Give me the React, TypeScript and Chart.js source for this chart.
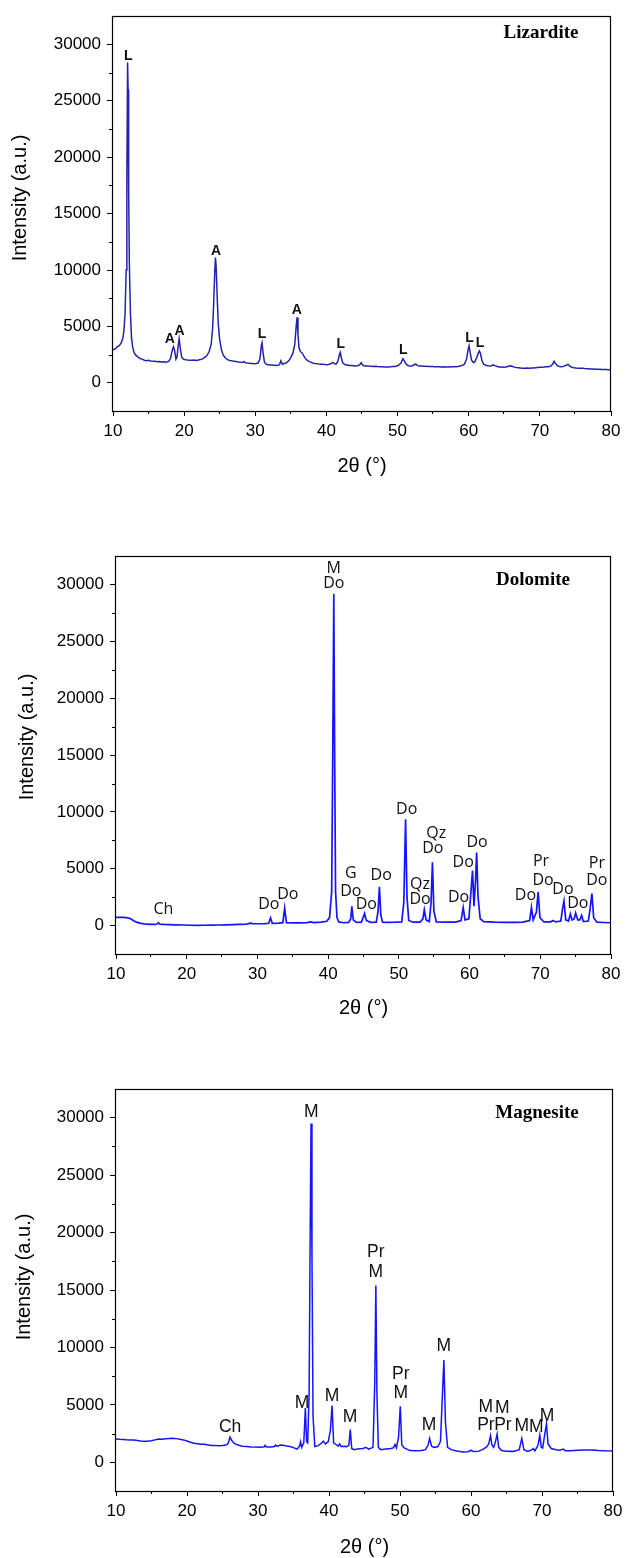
import React, { useEffect, useRef } from "react";
import { Chart, registerables } from "chart.js";
Chart.register(...registerables);

// ---------- shared axis values ----------
const xTickValues = [10, 20, 30, 40, 50, 60, 70, 80];
const xMinorValues = [15, 25, 35, 45, 55, 65, 75];
const yTickValues = [0, 5000, 10000, 15000, 20000, 25000, 30000];
const yMinorValues = [2500, 7500, 12500, 17500, 22500, 27500];
const xTitle = "2θ (°)";
const yTitle = "Intensity (a.u.)";

// ---------- Lizardite ----------
const lizarditeTheta = [
  10.0, 10.2, 10.4, 10.6, 10.8, 11.0, 11.2, 11.4, 11.55, 11.7, 11.85, 11.95, 12.05, 12.12, 12.2, 12.3, 12.45, 12.6, 12.75, 12.95,
  13.2, 13.5, 13.8, 14.1, 14.4, 14.7, 15.0, 15.3, 15.6, 15.9, 16.2, 16.5, 16.8, 17.1, 17.4, 17.7, 17.9, 18.1, 18.3, 18.5,
  18.65, 18.85, 19.0, 19.15, 19.3, 19.45, 19.65, 19.9, 20.2, 20.5, 20.8, 21.1, 21.4, 21.7, 22.0, 22.3, 22.6, 22.9, 23.2, 23.5,
  23.8, 24.0, 24.15, 24.3, 24.4, 24.5, 24.65, 24.8, 25.0, 25.25, 25.5, 25.8, 26.1, 26.4, 26.7, 27.0, 27.3, 27.6, 27.9, 28.2,
  28.4, 28.6, 28.9, 29.2, 29.5, 29.8, 30.1, 30.4, 30.65, 30.85, 30.95, 31.1, 31.3, 31.6, 31.9, 32.2, 32.5, 32.8, 33.1, 33.4,
  33.6, 33.8, 34.1, 34.4, 34.7, 35.0, 35.3, 35.55, 35.75, 35.87, 36.0, 36.15, 36.35, 36.6, 36.8, 37.1, 37.4, 37.7, 38.0, 38.3,
  38.6, 38.9, 39.2, 39.5, 39.8, 40.1, 40.4, 40.7, 40.9, 41.1, 41.35, 41.6, 41.85, 41.95, 42.1, 42.3, 42.6, 42.9, 43.2, 43.5,
  43.8, 44.1, 44.4, 44.7, 44.9, 45.1, 45.4, 45.7, 46.0, 46.3, 46.6, 46.9, 47.2, 47.5, 47.8, 48.1, 48.4, 48.7, 49.0, 49.3,
  49.6, 49.9, 50.2, 50.5, 50.75, 50.95, 51.2, 51.5, 51.8, 52.1, 52.4, 52.55, 52.8, 53.1, 53.4, 53.7, 54.0, 54.3, 54.6, 54.9,
  55.2, 55.5, 55.8, 56.1, 56.4, 56.7, 57.0, 57.3, 57.6, 57.9, 58.2, 58.5, 58.8, 59.1, 59.4, 59.7, 59.9, 60.05, 60.2, 60.4,
  60.65, 60.85, 61.1, 61.35, 61.5, 61.65, 61.85, 62.1, 62.4, 62.7, 63.0, 63.2, 63.45, 63.7, 64.0, 64.3, 64.6, 64.9, 65.2, 65.5,
  65.8, 66.1, 66.4, 66.7, 67.0, 67.3, 67.6, 67.9, 68.2, 68.5, 68.8, 69.1, 69.4, 69.7, 70.0, 70.3, 70.6, 70.9, 71.2, 71.5,
  71.8, 72.0, 72.2, 72.5, 72.8, 73.1, 73.4, 73.7, 73.95, 74.2, 74.5, 74.8, 75.1, 75.4, 75.7, 76.0, 76.3, 76.6, 76.9, 77.2,
  77.5, 77.8, 78.1, 78.4, 78.7, 79.0, 79.3, 79.6, 80.0,
];
const lizarditeIntensity = [
  2900, 3000, 3050, 3200, 3250, 3400, 3600, 4000, 4700, 6200, 10000, 18000, 28400, 26000, 17000, 10500, 6200, 4000, 3200, 2700,
  2450, 2300, 2150, 2100, 2000, 1960, 1990, 1930, 1900, 1920, 1870, 1890, 1840, 1860, 1830, 1870, 1950, 2200, 2800, 3200,
  2900, 2100, 2300, 3200, 3900, 3100, 2300, 2100, 2050, 2020, 2000, 1990, 2010, 1970, 2020, 2060, 2120, 2250, 2420, 2750,
  3400, 4800, 7000, 9800, 11100, 10300, 7500, 5200, 3800, 2900, 2450, 2200, 2050, 1980, 1950, 1900, 1880, 1850, 1830, 1800,
  1900, 1780, 1750, 1740, 1720, 1700, 1720, 1750, 2100, 3300, 3550, 2600, 1800, 1620, 1600, 1580, 1560, 1560, 1540, 1600,
  1950, 1650, 1720, 1780, 1950, 2250, 2650, 3400, 5000, 5800, 4300, 3100, 2750, 2650, 2400, 2100, 1950, 1850, 1780, 1720,
  1700, 1660, 1650, 1640, 1620, 1610, 1640, 1720, 1800, 1700, 1650, 1900, 2550, 2700, 2200, 1750, 1620, 1580, 1540, 1530,
  1520, 1500, 1510, 1600, 1780, 1560, 1490, 1500, 1480, 1470, 1450, 1460, 1440, 1430, 1420, 1410, 1400, 1410, 1420, 1440,
  1450, 1480, 1580, 1780, 2130, 1950, 1650, 1520, 1500, 1520, 1620, 1680, 1520, 1490, 1480, 1470, 1460, 1450, 1450, 1440,
  1430, 1420, 1420, 1410, 1420, 1400, 1410, 1400, 1420, 1430, 1430, 1450, 1480, 1550, 1650, 2100, 2900, 3280, 2700, 2000,
  1800, 1850, 2200, 2650, 2820, 2600, 2000, 1650, 1550, 1520, 1500, 1520, 1600, 1520, 1450, 1400, 1390, 1380, 1400, 1450,
  1500, 1460, 1390, 1350, 1330, 1310, 1300, 1290, 1310, 1300, 1320, 1310, 1330, 1350, 1370, 1380, 1400, 1430, 1420, 1480,
  1650, 1900, 1700, 1500, 1450, 1430, 1480, 1560, 1640, 1480, 1380, 1330, 1310, 1300, 1290, 1280, 1260, 1250, 1240, 1230,
  1220, 1210, 1210, 1200, 1190, 1180, 1170, 1160, 1150,
];
const lizarditeLabelText = ["L", "A", "A", "A", "L", "A", "L", "L", "L", "L"];
const lizarditeLabelTheta = [12.15, 18.0, 19.35, 24.5, 30.95, 35.85, 42.0, 50.8, 60.1, 61.6];
const lizarditeLabelIntensity = [29000, 3850, 4540, 11700, 4280, 6440, 3470, 2900, 3970, 3560];

// ---------- Dolomite ----------
const dolomiteTheta = [
  10.0, 10.5, 11.0, 11.5, 12.0, 12.5, 13.0, 13.5, 14.0, 14.5, 15.0, 15.5, 15.8, 16.0, 16.2, 16.8, 17.5, 18.5, 19.5, 20.5,
  21.5, 22.5, 23.5, 24.5, 25.5, 26.5, 27.5, 28.5, 29.0, 29.3, 30.0, 31.0, 31.6, 31.85, 32.1, 33.0, 33.6, 33.85, 34.1, 35.0,
  36.0, 37.0, 37.5, 38.0, 39.0, 39.8, 40.2, 40.5, 40.65, 40.8, 40.92, 41.05, 41.25, 41.5, 42.2, 42.9, 43.2, 43.35, 43.55, 44.0,
  44.7, 44.95, 45.15, 45.4, 46.0, 46.8, 47.05, 47.25, 47.45, 47.7, 48.5, 49.5, 50.4, 50.7, 50.95, 51.15, 51.4, 52.0, 53.0, 53.4,
  53.6, 53.85, 54.3, 54.55, 54.75, 54.95, 55.3, 56.5, 58.0, 58.8, 59.1, 59.35, 59.9, 60.2, 60.42, 60.62, 60.85, 61.0, 61.2, 61.5,
  62.0, 63.5, 65.0, 66.5, 67.5, 68.5, 68.75, 69.0, 69.45, 69.7, 69.95, 70.5, 71.5, 71.8, 72.2, 72.9, 73.15, 73.35, 73.6, 74.0,
  74.25, 74.5, 74.8, 75.0, 75.3, 75.6, 75.85, 76.1, 76.8, 77.05, 77.3, 77.55, 78.0, 79.0, 80.0,
];
const dolomiteIntensity = [
  720, 730, 720, 700, 620, 430, 280, 190, 150, 120, 110, 100, 140, 260, 120, 100, 90, 70, 50, 30,
  20, 30, 40, 50, 60, 80, 100, 130, 220, 170, 160, 170, 200, 670, 200, 210, 260, 1540, 250, 230,
  230, 260, 330, 260, 300, 380, 700, 3000, 15000, 29200, 15000, 3000, 700, 320, 250, 280, 600, 1700, 500, 280,
  300, 700, 1070, 450, 290, 310, 1200, 3420, 900, 300, 290, 300, 330, 2000, 9360, 2500, 450, 300, 310, 600,
  1390, 500, 350, 2000, 5570, 1300, 330, 300, 300, 450, 1590, 500, 600, 3000, 4840, 1700, 4000, 6430, 2500, 600,
  350, 300, 290, 290, 300, 450, 1590, 500, 1200, 2960, 700, 320, 330, 450, 320, 400, 1500, 2170, 500, 400,
  1020, 500, 600, 1110, 500, 500, 900, 350, 400, 1500, 2810, 700, 300, 270, 250,
];
const dolomiteLabelText = [
  "M", "Do", "Ch", "Do", "Do", "G", "Do", "Do", "Do", "Do", "Qz", "Do", "Qz", "Do",
  "Do", "Do", "Do", "Do", "Pr", "Do", "Do", "Do", "Pr", "Do",
];
const dolomiteLabelTheta = [
  40.8, 40.8, 16.7, 31.6, 34.3, 43.2, 43.2, 45.4, 47.5, 51.1, 53.0, 53.0, 55.3, 54.8,
  58.45, 59.1, 61.05, 67.9, 70.1, 70.4, 73.2, 75.3, 78.0, 78.0,
];
const dolomiteLabelIntensity = [
  31450, 30060, 1450, 1890, 2760, 4580, 3040, 1830, 4430, 10200, 3620, 2260, 8110, 6810,
  2460, 5590, 7330, 2610, 5650, 3970, 3190, 1940, 5500, 3970,
];

// ---------- Magnesite ----------
const magnesiteTheta = [
  10.0, 10.5, 11.0, 11.5, 12.0, 12.5, 13.0, 13.5, 14.0, 14.4, 15.0, 15.5, 16.0, 16.5, 17.0, 17.5, 18.0, 18.5, 19.0, 19.5,
  20.0, 20.5, 21.0, 21.5, 22.0, 22.5, 23.0, 23.5, 24.0, 24.5, 25.0, 25.5, 25.8, 26.05, 26.3, 26.7, 27.2, 27.8, 28.4, 29.0,
  29.6, 30.3, 30.9, 31.0, 31.2, 31.8, 32.3, 32.45, 32.7, 33.1, 33.6, 34.0, 34.5, 35.0, 35.5, 35.85, 36.0, 36.15, 36.45, 36.67,
  36.85, 37.0, 37.2, 37.35, 37.47, 37.6, 37.75, 38.0, 38.5, 39.0, 39.2, 39.5, 39.9, 40.2, 40.43, 40.65, 41.0, 41.3, 41.5, 41.7,
  42.2, 42.5, 42.8, 43.0, 43.2, 43.5, 44.0, 44.8, 45.2, 45.6, 46.2, 46.45, 46.6, 46.75, 46.95, 47.3, 48.0, 48.7, 49.05, 49.3,
  49.5, 49.8, 50.04, 50.25, 50.6, 51.4, 52.2, 53.0, 53.6, 53.95, 54.17, 54.45, 54.8, 55.3, 55.7, 55.95, 56.18, 56.4, 56.7, 57.2,
  58.0, 58.9, 59.6, 60.0, 60.3, 61.0, 61.6, 62.2, 62.5, 62.75, 62.95, 63.2, 63.45, 63.68, 63.9, 64.3, 65.0, 66.0, 66.8, 67.15,
  67.45, 68.0, 68.6, 68.75, 69.0, 69.45, 69.69, 69.9, 70.1, 70.4, 70.63, 70.85, 71.3, 72.0, 72.5, 73.0, 73.3, 74.0, 75.0, 76.0,
  77.0, 78.0, 79.0, 80.0,
];
const magnesiteIntensity = [
  2030, 2000, 1980, 1960, 1950, 1930, 1900, 1860, 1840, 1830, 1870, 1950, 2030, 2010, 2050, 2080, 2090, 2060, 2000, 1950,
  1860, 1750, 1660, 1620, 1570, 1560, 1510, 1460, 1470, 1450, 1470, 1500, 1650, 2200, 1900, 1620, 1500, 1400, 1370, 1340,
  1320, 1310, 1350, 1480, 1340, 1330, 1380, 1500, 1380, 1500, 1480, 1420, 1370, 1280, 1140, 1400, 1780, 1300, 1700, 4730,
  1800, 1690, 6000, 20000, 29500, 18000, 4000, 1370, 1450, 1700, 1840, 1600, 1800, 2800, 4940, 1700, 1550, 1400, 1600, 1380,
  1400, 1350, 1500, 2840, 1200, 1100, 1150, 1200, 1300, 1150, 1300, 7000, 15400, 6000, 1300, 1100, 1150, 1200, 1250, 1540,
  1250, 2200, 4880, 1500, 1250, 1020, 1000, 1030, 1100, 1500, 2080, 1400, 1300, 1350, 1800, 5500, 8900, 3500, 1300, 1100,
  980, 900, 920, 1050, 930, 950, 1100, 1330, 1600, 2320, 1500, 1300, 1800, 2460, 1300, 1020, 970, 950, 1100, 2080,
  1100, 950, 1100, 1200, 1000, 1500, 2380, 1300, 1250, 2500, 3340, 1600, 1200, 1100, 1050, 1150, 1000, 1000, 1050, 1080,
  1080, 1030, 1000, 990,
];
const magnesiteLabelText = [
  "M", "Pr", "M", "Ch", "M", "M", "M", "Pr", "M", "M", "M", "M", "Pr", "M", "Pr", "M", "M", "M",
];
const magnesiteLabelTheta = [
  37.5, 46.6, 46.6, 26.08, 36.2, 40.43, 42.96, 50.1, 50.1, 54.1, 56.18, 62.1, 62.1, 64.4, 64.5, 67.15, 69.2, 70.7,
];
const magnesiteLabelIntensity = [
  30520, 18280, 16590, 3040, 5170, 5750, 3950, 7650, 6050, 3190, 10120, 4820, 3190, 4740, 3190, 3130, 3100, 4000,
];

type Area = { left: number; right: number; top: number; bottom: number };
type PanelProps = {
  theta: number[];
  intensity: number[];
  labelText: string[];
  labelTheta: number[];
  labelIntensity: number[];
  title: string;
  color: string;
  lineWidth: number;
  labelFont: string;
  top: number;
  height: number;
  area: Area;
  yTitleX: number;
  yTitleY: number;
  xTitleY: number;
  titleX: number;
  titleY: number;
};

const W = 633;
const tickFont = { family: "Liberation Sans", size: 17 };

function Panel(p: PanelProps) {
  const ref = useRef<HTMLCanvasElement>(null);
  useEffect(() => {
    const canvas = ref.current;
    if (!canvas) return;
    const deco = {
      id: "deco",
      afterDraw(chart: any) {
        const { ctx, chartArea, scales } = chart;
        const { left, right, top, bottom } = chartArea;
        const xs = scales.x;
        const ys = scales.y;
        ctx.save();
        ctx.strokeStyle = "#000";
        ctx.lineWidth = 1.2;
        ctx.strokeRect(Math.round(left) - 0.5, Math.round(top) + 0.5, Math.round(right) - Math.round(left), Math.round(bottom) - Math.round(top));
        ctx.lineWidth = 1;
        ctx.beginPath();
        for (const v of yMinorValues) {
          const py = Math.round(ys.getPixelForValue(v)) + 0.5;
          ctx.moveTo(left - 4, py);
          ctx.lineTo(left, py);
        }
        for (const v of xMinorValues) {
          const px = Math.round(xs.getPixelForValue(v)) - 0.5;
          ctx.moveTo(px, bottom);
          ctx.lineTo(px, bottom + 3);
        }
        ctx.stroke();

        ctx.fillStyle = "#111";
        ctx.textAlign = "center";
        ctx.textBaseline = "middle";
        ctx.font = p.labelFont;
        for (let i = 0; i < p.labelText.length; i++) {
          ctx.fillText(p.labelText[i], xs.getPixelForValue(p.labelTheta[i]), ys.getPixelForValue(p.labelIntensity[i]));
        }

        ctx.font = 'bold 19px "Liberation Serif"';
        ctx.fillStyle = "#000";
        ctx.fillText(p.title, p.titleX, p.titleY);

        ctx.font = '20px "Liberation Sans"';
        ctx.fillText(xTitle, (left + right) / 2, p.xTitleY);
        ctx.translate(p.yTitleX, p.yTitleY);
        ctx.rotate(-Math.PI / 2);
        ctx.fillText(yTitle, 0, 0);
        ctx.restore();
      },
    };

    const chart = new Chart(canvas, {
      type: "line",
      data: {
        datasets: [
          {
            data: p.theta.map((t, i) => ({ x: t, y: p.intensity[i] })),
            borderColor: p.color,
            borderWidth: p.lineWidth,
            pointRadius: 0,
            tension: 0,
            fill: false,
          },
        ],
      },
      options: {
        animation: false,
        responsive: false,
        events: [],
        layout: { padding: { left: 0, right: W - p.area.right, top: p.area.top, bottom: 0 } },
        plugins: { legend: { display: false }, tooltip: { enabled: false } },
        scales: {
          x: {
            type: "linear",
            min: 10,
            max: 80,
            afterBuildTicks: (s: any) => {
              s.ticks = xTickValues.map((v) => ({ value: v }));
            },
            afterFit: (s: any) => {
              s.height = p.height - p.area.bottom;
            },
            ticks: { color: "#000", font: tickFont, padding: 5, maxRotation: 0, callback: (v: any) => String(v) },
            grid: { display: true, drawOnChartArea: false, drawTicks: true, tickLength: 5, color: "#000", lineWidth: 1 },
            border: { display: false },
          },
          y: {
            type: "linear",
            min: -2500,
            max: 32500,
            afterBuildTicks: (s: any) => {
              s.ticks = yTickValues.map((v) => ({ value: v }));
            },
            afterFit: (s: any) => {
              s.width = p.area.left;
            },
            ticks: { color: "#000", font: tickFont, padding: 6, callback: (v: any) => String(v) },
            grid: { display: true, drawOnChartArea: false, drawTicks: true, tickLength: 6, color: "#000", lineWidth: 1 },
            border: { display: false },
          },
        },
      },
      plugins: [deco],
    } as any);
    return () => chart.destroy();
  }, []);
  return (
    <div style={{ position: "absolute", left: 0, top: p.top, width: W, height: p.height }}>
      <canvas ref={ref} width={W} height={p.height} style={{ display: "block" }} />
    </div>
  );
}

export default function App() {
  return (
    <div style={{ position: "absolute", left: 0, top: 0, width: W, height: 1558, background: "#fff" }}>
      <Panel
        theta={lizarditeTheta}
        intensity={lizarditeIntensity}
        labelText={lizarditeLabelText}
        labelTheta={lizarditeLabelTheta}
        labelIntensity={lizarditeLabelIntensity}
        title="Lizardite"
        color="#2222aa"
        lineWidth={1.5}
        labelFont='bold 14px "Liberation Sans"'
        top={0}
        height={500}
        area={{ left: 113, right: 611, top: 8, bottom: 411 }}
        yTitleX={20}
        yTitleY={198}
        xTitleY={466}
        titleX={541}
        titleY={33}
      />
      <Panel
        theta={dolomiteTheta}
        intensity={dolomiteIntensity}
        labelText={dolomiteLabelText}
        labelTheta={dolomiteLabelTheta}
        labelIntensity={dolomiteLabelIntensity}
        title="Dolomite"
        color="#1414ff"
        lineWidth={1.7}
        labelFont='16px "Open Sans"'
        top={540}
        height={500}
        area={{ left: 116, right: 611, top: 13, bottom: 414 }}
        yTitleX={27}
        yTitleY={197}
        xTitleY={468}
        titleX={533}
        titleY={40}
      />
      <Panel
        theta={magnesiteTheta}
        intensity={magnesiteIntensity}
        labelText={magnesiteLabelText}
        labelTheta={magnesiteLabelTheta}
        labelIntensity={magnesiteLabelIntensity}
        title="Magnesite"
        color="#1414ff"
        lineWidth={1.5}
        labelFont='17.5px "Liberation Sans"'
        top={1070}
        height={488}
        area={{ left: 116, right: 613, top: 19, bottom: 421 }}
        yTitleX={24}
        yTitleY={207}
        xTitleY={477}
        titleX={537}
        titleY={43}
      />
    </div>
  );
}
